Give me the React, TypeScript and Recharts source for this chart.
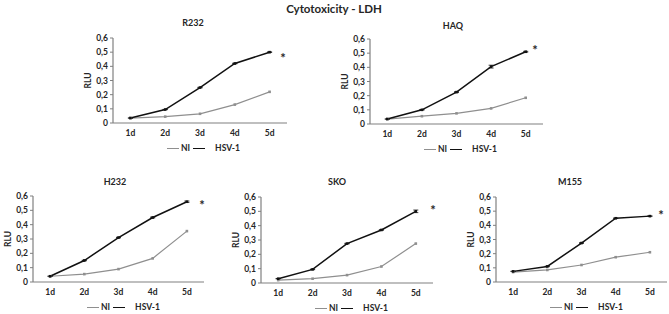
import { LineChart, Line, XAxis, YAxis, Legend, ErrorBar } from 'recharts';

const DAYS = ['1d', '2d', '3d', '4d', '5d'];
const Y_TICKS = [0, 0.1, 0.2, 0.3, 0.4, 0.5, 0.6];

const R232_NI = [0.035, 0.045, 0.065, 0.13, 0.22];
const R232_HSV = [0.035, 0.095, 0.25, 0.42, 0.5];
const R232_ERR = [0.001, 0.001, 0.002, 0.002, 0.002];

const HAQ_NI = [0.035, 0.055, 0.075, 0.11, 0.185];
const HAQ_HSV = [0.035, 0.1, 0.225, 0.405, 0.51];
const HAQ_ERR = [0.001, 0.002, 0.003, 0.01, 0.003];

const H232_NI = [0.04, 0.055, 0.09, 0.165, 0.355];
const H232_HSV = [0.04, 0.15, 0.31, 0.45, 0.56];
const H232_ERR = [0.001, 0.002, 0.002, 0.003, 0.005];

const SKO_NI = [0.02, 0.03, 0.055, 0.115, 0.275];
const SKO_HSV = [0.03, 0.095, 0.275, 0.37, 0.5];
const SKO_ERR = [0.001, 0.002, 0.002, 0.002, 0.009];

const M155_NI = [0.07, 0.085, 0.12, 0.175, 0.21];
const M155_HSV = [0.075, 0.11, 0.275, 0.45, 0.465];
const M155_ERR = [0.001, 0.002, 0.002, 0.002, 0.002];

const FONT = 'Lato, "Open Sans", sans-serif';
const AXIS = '#808080';
const TEXT = '#262626';
const HSV_COLOR = '#111111';
const NI_COLOR = '#8f8f8f';

const Y_W = 50;
const M_TOP = 10;
const M_RIGHT = 2;
const X_H = 20;
const BOTTOM = 24;

type Panel = {
  name: string;
  ni: number[];
  hsv: number[];
  err: number[];
  box: [number, number, number, number]; // plot left, right, top, bottom
  title: [number, number];
  star: [number, number];
};

const PANELS: Panel[] = [
  { name: 'R232', ni: R232_NI, hsv: R232_HSV, err: R232_ERR, box: [113, 287, 38, 123], title: [193, 23], star: [283, 55] },
  { name: 'HAQ', ni: HAQ_NI, hsv: HAQ_HSV, err: HAQ_ERR, box: [370, 543, 39, 124], title: [453, 26], star: [535, 47] },
  { name: 'H232', ni: H232_NI, hsv: H232_HSV, err: H232_ERR, box: [33, 204, 196, 282], title: [115, 182], star: [202, 202] },
  { name: 'SKO', ni: SKO_NI, hsv: SKO_HSV, err: SKO_ERR, box: [261, 433, 197, 283], title: [337, 182], star: [433, 207] },
  { name: 'M155', ni: M155_NI, hsv: M155_HSV, err: M155_ERR, box: [496, 667, 197, 282], title: [570, 182], star: [661, 212] },
];

const fmt = (v: number) => String(v).replace('.', ',');

const squareDot = (color: string) => (p: any) => (
  <rect key={`d-${p.index}`} x={p.cx - 1.3} y={p.cy - 1.3} width={2.6} height={2.6} fill={color} />
);

function LegendBox() {
  const item = (color: string, w: number) => (
    <span style={{ display: 'inline-block', width: 12, height: 0, borderTop: `${w}px solid ${color}` }} />
  );
  return (
    <div style={{ display: 'flex', alignItems: 'center', fontFamily: FONT, fontSize: 8.5, fontWeight: 700, color: TEXT, height: 10 }}>
      {item(NI_COLOR, 1.2)}
      <span style={{ marginLeft: 2, marginRight: 3 }}>NI</span>
      {item(HSV_COLOR, 1.5)}
      <span style={{ marginLeft: 10 }}>HSV-1</span>
    </div>
  );
}

function PanelChart({ p }: { p: Panel }) {
  const [l, r, t, b] = p.box;
  const plotW = r - l;
  const plotH = b - t;
  const width = Y_W + plotW + M_RIGHT;
  const height = M_TOP + plotH + X_H + BOTTOM;
  const half = plotW / DAYS.length / 2;
  const data = DAYS.map((d, i) => ({ day: d, ni: p.ni[i], hsv: p.hsv[i], err: p.err[i] }));
  const tick = { fontFamily: FONT, fontSize: 8.5, fontWeight: 700, fill: TEXT };

  return (
    <div style={{ position: 'absolute', left: l - Y_W, top: t - M_TOP }}>
      <LineChart width={width} height={height} data={data} margin={{ top: M_TOP, right: M_RIGHT, left: 0, bottom: BOTTOM }}>
        <XAxis
          dataKey="day"
          height={X_H}
          padding={{ left: half, right: half }}
          tickLine={false}
          tickSize={4}
          tickMargin={3}
          axisLine={{ stroke: AXIS, strokeWidth: 1.2 }}
          tick={tick}
          interval={0}
        />
        <YAxis
          width={Y_W}
          domain={[0, 0.6]}
          ticks={Y_TICKS}
          interval={0}
          tickFormatter={fmt}
          tickSize={3}
          tickMargin={2}
          tickLine={{ stroke: AXIS }}
          axisLine={{ stroke: AXIS, strokeWidth: 1.2 }}
          tick={tick}
          label={{ value: 'RLU', angle: -90, position: 'center', fontFamily: FONT, fontSize: 8.5, fontWeight: 700, fill: TEXT }}
        />
        <Legend
          verticalAlign="middle"
          align="center"
          layout="horizontal"
          content={() => <LegendBox />}
          wrapperStyle={{ left: Y_W + 54, top: M_TOP + plotH + 20, width: 120, height: 10 }}
        />
        <Line
          dataKey="ni"
          name="NI"
          stroke={NI_COLOR}
          strokeWidth={1.2}
          dot={squareDot(NI_COLOR)}
          activeDot={false}
          isAnimationActive={false}
        />
        <Line
          dataKey="hsv"
          name="HSV-1"
          stroke={HSV_COLOR}
          strokeWidth={1.5}
          dot={squareDot(HSV_COLOR)}
          activeDot={false}
          isAnimationActive={false}
        >
          <ErrorBar dataKey="err" width={2.5} stroke={HSV_COLOR} strokeWidth={0.8} />
        </Line>
      </LineChart>
    </div>
  );
}

const label = (x: number, y: number, size: number): React.CSSProperties => ({
  position: 'absolute',
  left: x - 60,
  top: y - size * 0.65,
  width: 120,
  textAlign: 'center',
  fontFamily: FONT,
  fontSize: size,
  fontWeight: 700,
  color: TEXT,
  lineHeight: 1.3,
});

export default function App() {
  return (
    <div style={{ position: 'absolute', left: 0, top: 0, width: 669, height: 314, overflow: 'hidden', background: '#fff' }}>
      <div style={label(334, 9, 11.5)}>Cytotoxicity - LDH</div>
      {PANELS.map((p) => (
        <div key={p.name}>
          <PanelChart p={p} />
          <div style={label(p.title[0], p.title[1], 9)}>{p.name}</div>
          <div style={label(p.star[0], p.star[1] + 3, 13)}>*</div>
        </div>
      ))}
    </div>
  );
}
